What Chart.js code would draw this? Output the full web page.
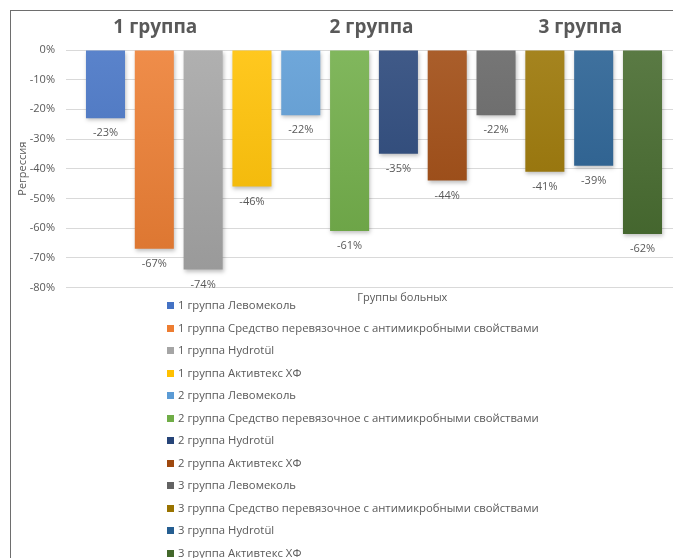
<!DOCTYPE html>
<html lang="ru">
<head>
<meta charset="utf-8">
<script src="https://cdn.jsdelivr.net/npm/chart.js@4/dist/chart.umd.min.js"></script>
<style>
  html, body { margin: 0; padding: 0; background: #fff; overflow: hidden; }
  body { width: 673px; height: 558px; position: relative; font-family: "Open Sans", sans-serif; }
  #frame { position: absolute; left: 10px; top: 10px; width: 700px; height: 600px;
           border-left: 1px solid #6e6e6e; border-top: 1px solid #6e6e6e; }
  #wrap { position: absolute; left: 0; top: 0; }
  #legenda { position: absolute; left: 167px; top: 296px; font-size: 11.3px; color: #595959; }
  #legenda div { height: 22.5px; line-height: 18px; white-space: nowrap; }
  #legenda span { display: inline-block; width: 7px; height: 7px; margin-right: 4px; vertical-align: 0px; }
</style>
</head>
<body>
<div id="frame"></div>
<div id="wrap"><canvas id="grafico" width="690" height="305"></canvas></div>
<div id="legenda"></div>

<script>
//--------------------------------------------------
// DADOS
//--------------------------------------------------
const grupos = ["1 группа", "2 группа", "3 группа"];
const preparados = ["Левомеколь", "Средство перевязочное с антимикробными свойствами", "Hydrotül", "Активтекс ХФ"];
const regressao1 = [-23, -67, -74, -46];
const regressao2 = [-22, -61, -35, -44];
const regressao3 = [-22, -41, -39, -62];
const cores = [
    "#4472C4", "#ED7D31", "#A5A5A5", "#FFC000",
    "#5B9BD5", "#70AD47", "#264478", "#9E480E",
    "#636363", "#997300", "#255E91", "#43682B"
];
const ticksY = [0, -10, -20, -30, -40, -50, -60, -70, -80];

// posição dos títulos de grupo (fração da área do gráfico)
const posTitulos = [0.145, 0.496, 0.835];

//--------------------------------------------------
// MONTA DATASETS
//--------------------------------------------------
const valores = [regressao1, regressao2, regressao3];
const datasets = [];
grupos.forEach((g, gi) => {
    preparados.forEach((p, pi) => {
        const cor = cores[gi * 4 + pi];
        datasets.push({
            label: g + " " + p,
            data: [valores[gi][pi]],
            cor: cor,
            backgroundColor: ctx => gradiente(ctx.chart, cor),
            borderWidth: 0
        });
    });
});

function clarear(hex, f) {
    const n = parseInt(hex.slice(1), 16);
    let r = n >> 16, g = (n >> 8) & 255, b = n & 255;
    r = Math.round(r + (255 - r) * f);
    g = Math.round(g + (255 - g) * f);
    b = Math.round(b + (255 - b) * f);
    return `rgb(${r},${g},${b})`;
}
function escurecer(hex, f) {
    const n = parseInt(hex.slice(1), 16);
    const r = Math.round((n >> 16) * (1 - f));
    const g = Math.round(((n >> 8) & 255) * (1 - f));
    const b = Math.round((n & 255) * (1 - f));
    return `rgb(${r},${g},${b})`;
}
function gradiente(chart, cor) {
    const area = chart.chartArea;
    if (!area) return cor;
    const gr = chart.ctx.createLinearGradient(0, area.top, 0, area.bottom);
    gr.addColorStop(0, clarear(cor, 0.12));
    gr.addColorStop(1, escurecer(cor, 0.08));
    return gr;
}

//--------------------------------------------------
// PLUGIN: SOMBRA, RÓTULOS, TÍTULOS
//--------------------------------------------------
const textos = {
    id: "textos",
    beforeDatasetsDraw(chart) {
        const ctx = chart.ctx;
        ctx.save();
        ctx.shadowColor = "rgba(0,0,0,0.25)";
        ctx.shadowBlur = 4;
        ctx.shadowOffsetX = 1;
        ctx.shadowOffsetY = 2;
    },
    afterDatasetsDraw(chart) {
        const ctx = chart.ctx;
        ctx.restore();
        const area = chart.chartArea;
        ctx.save();
        ctx.fillStyle = "#595959";
        ctx.font = "11px 'Open Sans'";
        ctx.textAlign = "center";
        ctx.textBaseline = "middle";
        chart.data.datasets.forEach((ds, i) => {
            const bar = chart.getDatasetMeta(i).data[0];
            ctx.fillText(ds.data[0] + "%", bar.x, bar.y + 15);
        });
        ctx.fillText("Группы больных", area.left + (area.right - area.left) * 0.546, area.bottom + 10);

        ctx.font = "bold 19px 'Open Sans'";
        grupos.forEach((g, i) => {
            ctx.fillText(g, area.left + (area.right - area.left) * posTitulos[i], 28);
        });
        ctx.restore();
    }
};

//--------------------------------------------------
// GRÁFICO
//--------------------------------------------------
const grafico = new Chart(document.getElementById("grafico"), {
    type: "bar",
    data: { labels: [""], datasets: datasets },
    options: {
        responsive: false,
        animation: false,
        layout: { padding: { top: 50, bottom: 12, right: 8, left: 0 } },
        datasets: { bar: { categoryPercentage: 0.951, barPercentage: 0.8 } },
        plugins: { legend: { display: false }, tooltip: { enabled: false } },
        scales: {
            x: { display: false },
            y: {
                min: -80, max: 0,
                afterFit: s => { s.width = 66; },
                afterBuildTicks: s => { s.ticks = ticksY.map(v => ({ value: v })); },
                grid: { color: "#d9d9d9", drawTicks: false },
                border: { display: false },
                ticks: {
                    padding: 11,
                    color: "#595959",
                    font: { family: "Open Sans", size: 11 },
                    callback: v => v + "%"
                },
                title: {
                    display: true,
                    text: "Регрессия",
                    color: "#595959",
                    font: { family: "Open Sans", size: 11 },
                    padding: { top: 16, bottom: 0 }
                }
            }
        }
    },
    plugins: [textos]
});

//--------------------------------------------------
// LEGENDA (HTML, UMA POR LINHA)
//--------------------------------------------------
const legenda = document.getElementById("legenda");
grafico.data.datasets.forEach(ds => {
    legenda.innerHTML += `<div><span style="background:${ds.cor}"></span>${ds.label}</div>`;
});
</script>
</body>
</html>
